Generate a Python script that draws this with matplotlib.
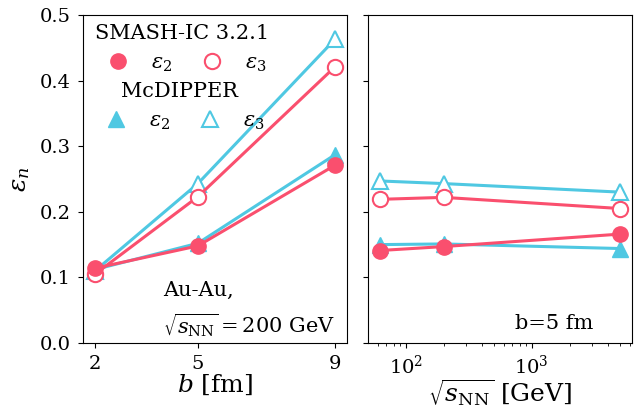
import matplotlib
matplotlib.use("Agg")
import matplotlib.pyplot as plt
from matplotlib.lines import Line2D

plt.rcParams['font.family'] = ['DejaVu Serif']
plt.rcParams['mathtext.fontset'] = 'dejavuserif'
plt.rcParams['font.size'] = 14

# Left panel: impact parameter dependence (Au-Au, 200 GeV)
b_vals = [2, 5, 9]
smash_e2_b = [0.114, 0.148, 0.271]
smash_e3_b = [0.105, 0.223, 0.421]
mcd_e2_b = [0.112, 0.152, 0.287]
mcd_e3_b = [0.110, 0.243, 0.463]

# Right panel: energy dependence (b = 5 fm)
sqrts = [62.4, 200, 5020]
smash_e2_s = [0.141, 0.147, 0.166]
smash_e3_s = [0.219, 0.222, 0.205]
mcd_e2_s = [0.150, 0.151, 0.144]
mcd_e3_s = [0.247, 0.243, 0.230]

pink = '#FA4F6E'
cyan = '#4FC8E2'

fig = plt.figure(figsize=(6.38, 4.07), dpi=100)
ax1 = fig.add_axes([83/638, 1-343/407, (347-83)/638, (343-15)/407])
ax2 = fig.add_axes([368/638, 1-343/407, (632-368)/638, (343-15)/407], sharey=ax1)

ms = 11
lw = 2.2

def draw(ax, x, s2, s3, m2, m3):
    ax.plot(x, m3, '-^', color=cyan, mfc='white', mec=cyan, ms=ms, lw=lw, mew=1.5)
    ax.plot(x, m2, '-^', color=cyan, ms=ms, lw=lw)
    ax.plot(x, s3, '-o', color=pink, mfc='white', mec=pink, ms=ms, lw=lw, mew=1.5)
    ax.plot(x, s2, '-o', color=pink, ms=ms, lw=lw)

draw(ax1, b_vals, smash_e2_b, smash_e3_b, mcd_e2_b, mcd_e3_b)
draw(ax2, sqrts, smash_e2_s, smash_e3_s, mcd_e2_s, mcd_e3_s)

for ax in (ax1, ax2):
    ax.tick_params(labelsize=14, pad=5)

ax1.set_ylim(0, 0.5)
ax1.set_xticks(b_vals)
ax1.set_yticks([0.0, 0.1, 0.2, 0.3, 0.4, 0.5])
ax1.set_xlabel(r'$b$ [fm]', fontsize=18, labelpad=0)
ax1.set_ylabel(r'$\varepsilon_n$', fontsize=18, labelpad=6)
ax1.text((163 - 83) / (347 - 83), (343 - 339) / 328,
         'Au-Au,\n' + r'$\sqrt{s_{\rm NN}} = 200$ GeV',
         transform=ax1.transAxes, ha='left', va='bottom', fontsize=15,
         linespacing=1.5, multialignment='left')

ax2.set_xscale('log')
ax2.tick_params(labelleft=False)
ax2.set_xlabel(r'$\sqrt{s_{\rm NN}}$ [GeV]', fontsize=18, labelpad=0)
ax2.text((593 - 368) / (632 - 368), (343 - 333) / 328, 'b=5 fm',
         transform=ax2.transAxes, ha='right', va='bottom', fontsize=15)

h_s2 = Line2D([], [], marker='o', ls='none', color=pink, ms=ms)
h_s3 = Line2D([], [], marker='o', ls='none', mfc='white', mec=pink, ms=ms, mew=1.5)
h_m2 = Line2D([], [], marker='^', ls='none', color=cyan, ms=ms)
h_m3 = Line2D([], [], marker='^', ls='none', mfc='white', mec=cyan, ms=ms, mew=1.5)

leg1 = ax1.legend([h_s2, h_s3], [r'$\varepsilon_2$', r'$\varepsilon_3$'], ncol=2,
                  title='SMASH-IC 3.2.1', frameon=False, loc='upper left',
                  bbox_to_anchor=(-0.01, 1.016), fontsize=15, title_fontsize=15,
                  columnspacing=0.9, handletextpad=0.6, borderaxespad=0.3,
                  handlelength=2.0)
ax1.add_artist(leg1)
leg2 = ax1.legend([h_m2, h_m3], [r'$\varepsilon_2$', r'$\varepsilon_3$'], ncol=2,
                  title='McDIPPER', frameon=False, loc='upper left',
                  bbox_to_anchor=(-0.01, 0.84), fontsize=15, title_fontsize=15,
                  columnspacing=0.9, handletextpad=0.6, borderaxespad=0.3,
                  handlelength=2.0)

fig.savefig('out.png', dpi=100)
